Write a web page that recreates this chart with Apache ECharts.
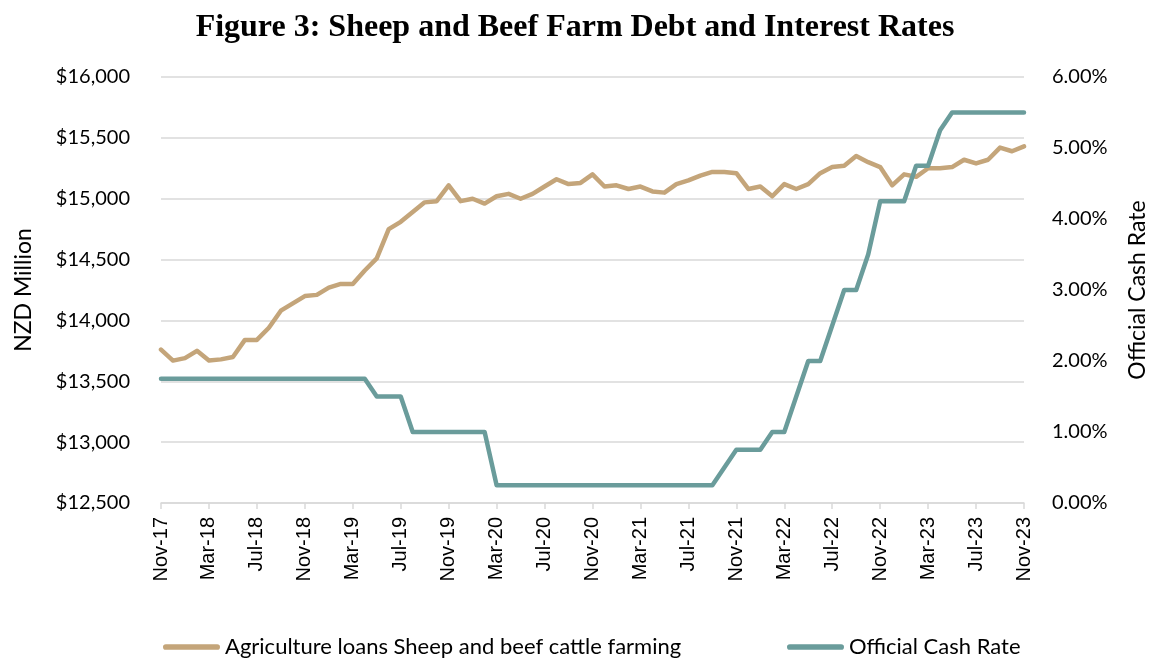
<!DOCTYPE html>
<html>
<head>
<meta charset="utf-8">
<title>Sheep and Beef Farm Debt and Interest Rates</title>
<script src="https://cdn.jsdelivr.net/npm/echarts@6/dist/echarts.min.js"></script>
<style>
  html, body { margin: 0; padding: 0; background: #fff; }
  #chart { width: 1150px; height: 658px; }
</style>
</head>
<body>
<div id="chart"></div>
<script>
// monthly, Nov-17 .. Nov-23
const monthNames = ["Jan", "Feb", "Mar", "Apr", "May", "Jun", "Jul", "Aug", "Sep", "Oct", "Nov", "Dec"];
const months = [];
for (let i = 0; i < 73; i++) {
  const m = (10 + i) % 12;
  const y = 17 + Math.floor((10 + i) / 12);
  months.push(monthNames[m] + "-" + y);
}

// NZD million
const farmDebt = [
  13760, 13670, 13690, 13750, 13670, 13680, 13700, 13840, 13840, 13940,
  14080, 14140, 14200, 14210, 14270, 14300, 14300, 14410, 14510, 14750,
  14810, 14890, 14970, 14980, 15110, 14980, 15000, 14960, 15020, 15040,
  15000, 15040, 15100, 15160, 15120, 15130, 15200, 15100, 15110, 15080,
  15100, 15060, 15050, 15120, 15150, 15190, 15220, 15220, 15210, 15080,
  15100, 15020, 15120, 15080, 15120, 15210, 15260, 15270, 15350, 15300,
  15260, 15110, 15200, 15180, 15250, 15250, 15260, 15320, 15290, 15320,
  15420, 15390, 15430
];

// percent
const cashRate = [
  1.75, 1.75, 1.75, 1.75, 1.75, 1.75, 1.75, 1.75, 1.75, 1.75,
  1.75, 1.75, 1.75, 1.75, 1.75, 1.75, 1.75, 1.75, 1.5, 1.5,
  1.5, 1.0, 1.0, 1.0, 1.0, 1.0, 1.0, 1.0, 0.25, 0.25,
  0.25, 0.25, 0.25, 0.25, 0.25, 0.25, 0.25, 0.25, 0.25, 0.25,
  0.25, 0.25, 0.25, 0.25, 0.25, 0.25, 0.25, 0.5, 0.75, 0.75,
  0.75, 1.0, 1.0, 1.5, 2.0, 2.0, 2.5, 3.0, 3.0, 3.5,
  4.25, 4.25, 4.25, 4.75, 4.75, 5.25, 5.5, 5.5, 5.5, 5.5,
  5.5, 5.5, 5.5
];

const debtName = "Agriculture loans Sheep and beef cattle farming";
const ocrName = "Official Cash Rate";
const tan = "#c4a57a";
const teal = "#6a9c9b";
const uiFont = "Lato";
const pill = "path://M3,0 L57,0 A3,3 0 0 1 57,6 L3,6 A3,3 0 0 1 3,0 Z";

const chart = echarts.init(document.getElementById("chart"), null, { renderer: "canvas" });

const option = {
  animation: false,
  backgroundColor: "#fff",
  title: {
    text: "Figure 3: Sheep and Beef Farm Debt and Interest Rates",
    left: "center",
    top: 7,
    textStyle: {
      fontFamily: "Liberation Serif",
      fontWeight: "bold",
      fontSize: 32,
      color: "#000",
    },
  },
  legend: [
    {
      data: [debtName],
      left: 158,
      top: 631,
      icon: pill,
      itemWidth: 57,
      itemHeight: 6,
      textStyle: { fontFamily: uiFont, fontSize: 22, color: "#000" },
    },
    {
      data: [ocrName],
      left: 782,
      top: 631,
      icon: pill,
      itemWidth: 57,
      itemHeight: 6,
      textStyle: { fontFamily: uiFont, fontSize: 22, color: "#000" },
    },
  ],
  grid: {
    left: 161,
    right: 126,
    top: 77,
    bottom: 155,
    containLabel: false,
    outerBoundsMode: "none",
  },
  xAxis: {
    type: "category",
    boundaryGap: false,
    data: months,
    axisLine: { lineStyle: { color: "#d9d9d9", width: 1.5 } },
    axisTick: { interval: 3, length: 6, lineStyle: { color: "#d9d9d9", width: 1.5 } },
    axisLabel: {
      interval: 3,
      rotate: 90,
      margin: 14,
      fontFamily: "Liberation Sans",
      fontSize: 20,
      color: "#000",
    },
  },
  yAxis: [
    {
      type: "value",
      min: 12500,
      max: 16000,
      interval: 500,
      name: "NZD Million",
      nameLocation: "middle",
      nameRotate: 90,
      nameGap: 126,
      nameTextStyle: { fontFamily: uiFont, fontSize: 23, color: "#000" },
      axisLine: { show: false },
      axisTick: { show: false },
      axisLabel: {
        margin: 31,
        fontFamily: uiFont,
        fontSize: 20,
        color: "#000",
        formatter: (v) => "$" + v.toLocaleString("en-US"),
      },
      splitLine: { lineStyle: { color: "#d9d9d9", width: 1.5 } },
    },
    {
      type: "value",
      min: 0,
      max: 6,
      interval: 1,
      position: "right",
      name: ocrName,
      nameLocation: "middle",
      nameRotate: 90,
      nameGap: 102,
      nameTextStyle: { fontFamily: uiFont, fontSize: 23, color: "#000" },
      axisLine: { show: false },
      axisTick: { show: false },
      axisLabel: {
        margin: 28,
        fontFamily: uiFont,
        fontSize: 20,
        color: "#000",
        formatter: (v) => v.toFixed(2) + "%",
      },
      splitLine: { show: false },
    },
  ],
  series: [
    {
      name: debtName,
      type: "line",
      yAxisIndex: 0,
      data: farmDebt,
      showSymbol: false,
      symbol: "none",
      color: tan,
      lineStyle: { color: tan, width: 4.5, cap: "round", join: "round" },
    },
    {
      name: ocrName,
      type: "line",
      yAxisIndex: 1,
      data: cashRate,
      showSymbol: false,
      symbol: "none",
      color: teal,
      lineStyle: { color: teal, width: 4.5, cap: "round", join: "round" },
    },
  ],
};

chart.setOption(option);
</script>
</body>
</html>
